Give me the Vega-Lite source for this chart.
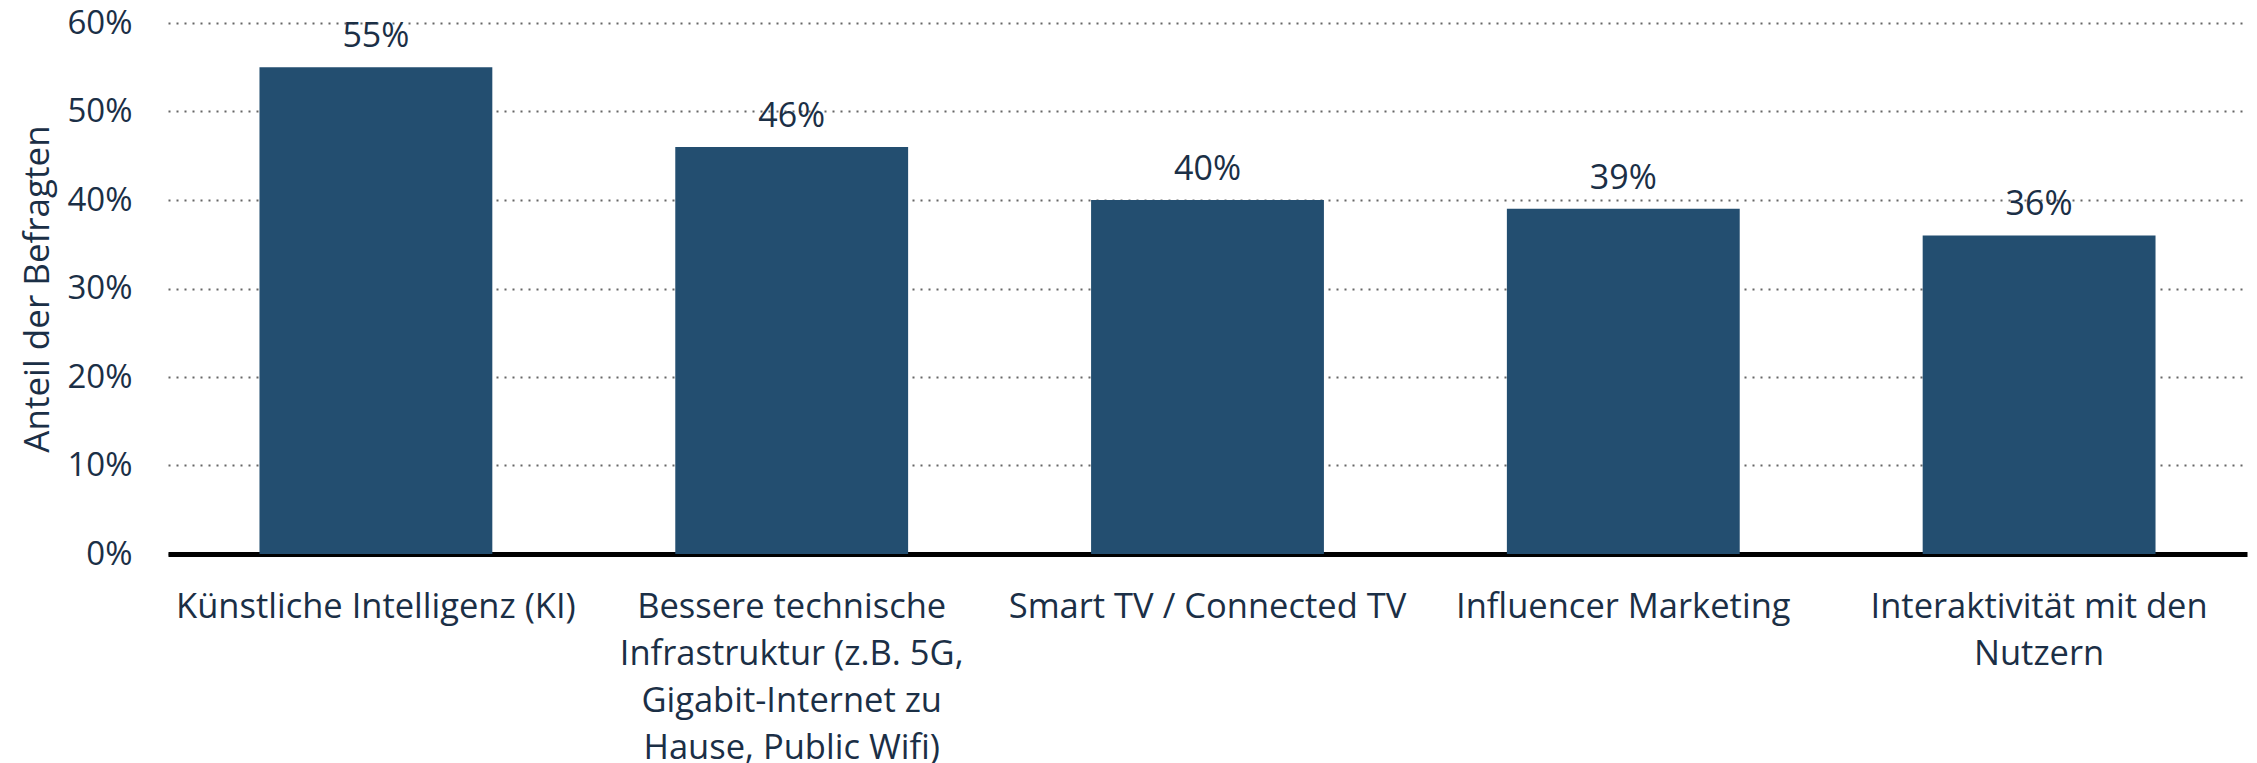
{
  "$schema": "https://vega.github.io/schema/vega-lite/v6.json",
  "width": 2079,
  "height": 531,
  "autosize": {"type": "none"},
  "padding": {"left": 168, "top": 23, "right": 10, "bottom": 209},
  "background": "white",
  "config": {
    "view": {"stroke": null},
    "font": "Open Sans",
    "text": {"font": "Open Sans"}
  },
  "data": {
    "values": [
      {"kategorie": "Künstliche Intelligenz (KI)", "anteil": 0.55},
      {"kategorie": "Bessere technische Infrastruktur (z.B. 5G, Gigabit-Internet zu Hause, Public Wifi)", "anteil": 0.46},
      {"kategorie": "Smart TV / Connected TV", "anteil": 0.40},
      {"kategorie": "Influencer Marketing", "anteil": 0.39},
      {"kategorie": "Interaktivität mit den Nutzern", "anteil": 0.36}
    ]
  },
  "encoding": {
    "x": {
      "field": "kategorie",
      "type": "nominal",
      "sort": null,
      "scale": {"paddingInner": 0.44, "paddingOuter": 0.22},
      "axis": {
        "title": null,
        "labelAngle": 0,
        "labelFont": "Open Sans",
        "labelFontSize": 34.5,
        "labelColor": "#1b2f46",
        "labelLineHeight": 47.3,
        "labelPadding": 36,
        "labelLimit": 0,
        "labelBaseline": "top",
        "ticks": false,
        "domain": true,
        "domainColor": "#000000",
        "domainWidth": 5,
        "labelExpr": "datum.value == 'Bessere technische Infrastruktur (z.B. 5G, Gigabit-Internet zu Hause, Public Wifi)' ? ['Bessere technische', 'Infrastruktur (z.B. 5G,', 'Gigabit-Internet zu', 'Hause, Public Wifi)'] : datum.value == 'Interaktivität mit den Nutzern' ? ['Interaktivität mit den', 'Nutzern'] : datum.label"
      }
    },
    "y": {
      "field": "anteil",
      "type": "quantitative",
      "scale": {"domain": [0, 0.6], "nice": false},
      "axis": {
        "title": "Anteil der Befragten",
        "titleFont": "Open Sans",
        "titleFontSize": 35,
        "titleFontWeight": "normal",
        "titleColor": "#1b2f46",
        "titlePadding": 11,
        "format": ".0%",
        "values": [0, 0.1, 0.2, 0.3, 0.4, 0.5, 0.6],
        "labelFont": "Open Sans",
        "labelFontSize": 33,
        "labelColor": "#1b2f46",
        "labelPadding": 36,
        "ticks": false,
        "domain": false,
        "grid": true,
        "gridColor": "#666666",
        "gridDash": [2, 6],
        "gridWidth": 2
      }
    }
  },
  "layer": [
    {
      "mark": {"type": "bar", "color": "#234e70"}
    },
    {
      "mark": {"type": "text", "baseline": "alphabetic", "dy": -20, "fontSize": 34, "color": "#1b2f46", "font": "Open Sans"},
      "encoding": {
        "text": {"field": "anteil", "type": "quantitative", "format": ".0%"}
      }
    }
  ]
}
